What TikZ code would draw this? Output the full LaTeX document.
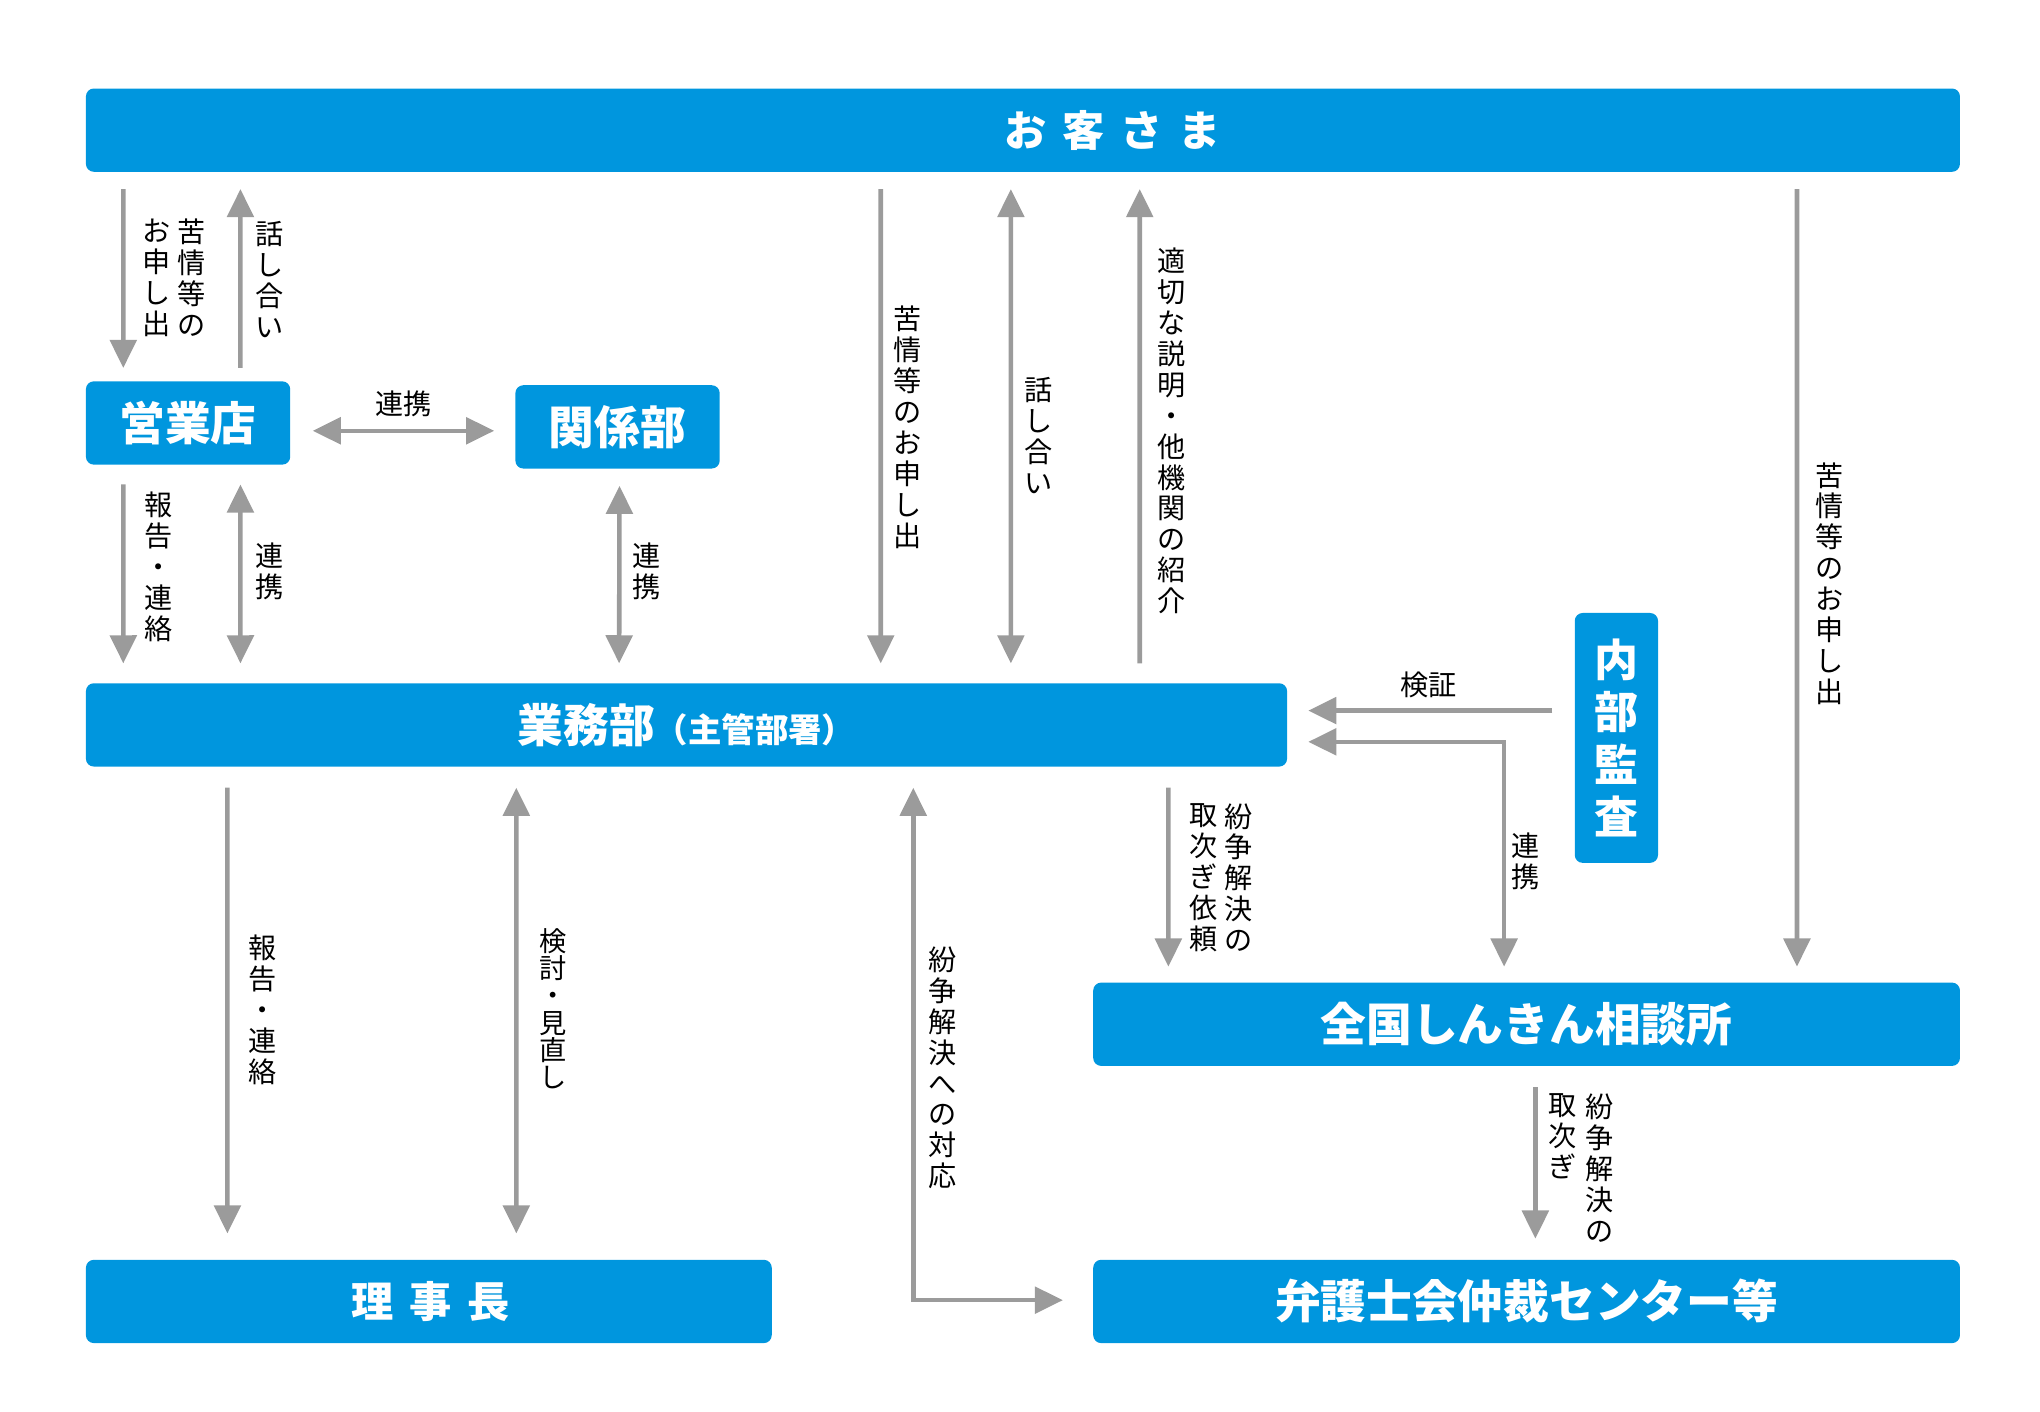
\documentclass[tikz,border=0pt]{standalone}
\usepackage{fontspec}
\setmainfont{Noto Sans CJK JP}
\usetikzlibrary{arrows.meta, positioning}
\definecolor{boxblue}{RGB}{0,150,222}
\definecolor{arrowgray}{RGB}{155,155,155}
\tikzstyle{box} = [rectangle, rounded corners=4.5pt, fill=boxblue, text=white, inner sep=0pt, minimum height=1.664cm, align=center, font=\fontsize{26}{30}\selectfont\bfseries]
\tikzstyle{boxtext} = [inner sep=0pt, text=white, font=\fontsize{24}{28}\selectfont\bfseries]
\tikzstyle{notetext} = [inner sep=0pt, align=center, anchor=north, font=\fontsize{16}{17.6}\selectfont]
\tikzstyle{arrow} = [line width=2.6pt, draw=arrowgray, -{Triangle[length=16pt,width=15pt]}]
\tikzstyle{twoway} = [line width=2.6pt, draw=arrowgray, {Triangle[length=16pt,width=15pt]}-{Triangle[length=16pt,width=15pt]}]
\begin{document}
\begin{tikzpicture}[x=0.026cm, y=-0.026cm]
\useasboundingbox (0,0) rectangle (1567.5,1084.2);

% Boxes
\node[box, minimum width=37.44cm] (kyaku) at (786,100) {};
\node[boxtext] (kyakutext) at (855,100) {お\hspace{9pt}客\hspace{9pt}さ\hspace{9pt}ま};
\node[box, minimum width=4.082cm] (eigyo) at (144.5,325) {営業店};
\node[box, minimum width=4.082cm] (kankei) at (474.5,328) {関係部};
\node[box, minimum width=23.998cm] (gyomu) at (527.5,557) {業務部{\fontsize{19}{22}\selectfont（主管部署）}};
\node[box, minimum width=1.664cm, minimum height=4.992cm, font=\fontsize{25}{29.6}\selectfont\bfseries] (naibu) at (1242,567) {内\\部\\監\\査};
\node[box, minimum width=17.316cm] (zenkoku) at (1173,787) {全国しんきん相談所};
\node[box, minimum width=13.702cm] (rijicho) at (329.5,1000) {};
\node[boxtext] (rijichotext) at (331,1000) {理\hspace{9pt}事\hspace{9pt}長};
\node[box, minimum width=17.316cm] (bengoshi) at (1173,1000) {弁護士会仲裁センター等};

% Customer and branch
\draw[arrow] ([shift={(29,13)}]kyaku.south west) -- ([shift={(29,-10)}]eigyo.north west);
\draw[arrow] ([shift={(119,-10)}]eigyo.north west) -- ([shift={(119,13)}]kyaku.south west);
\node[notetext] (kujoA) at (147,168) {苦\\情\\等\\の};
\node[notetext] (kujoB) at (120,168) {お\\申\\し\\出};
\node[notetext] (hanashiA) at (207,170) {話\\し\\合\\い};

\draw[twoway] ([shift={(17,6)}]eigyo.east) -- ([shift={(-16,3)}]kankei.west);
\node[notetext, anchor=center] (renkeiA) at (310,310) {連携};

% Branch and departments to head office
\draw[arrow] ([shift={(29,15)}]eigyo.south west) -- ([shift={(29,-15)}]gyomu.north west);
\draw[twoway] ([shift={(119,15)}]eigyo.south west) -- ([shift={(119,-15)}]gyomu.north west);
\draw[twoway] ([shift={(1.5,13)}]kankei.south) -- ([shift={(410,-15)}]gyomu.north west);
\node[notetext] (hokokuA) at (122,378) {報\\告\\・\\連\\絡};
\node[notetext] (renkeiB) at (207,417) {連\\携};
\node[notetext] (renkeiC) at (497,417) {連\\携};

% Customer and head office
\draw[arrow] ([shift={(611,13)}]kyaku.south west) -- ([shift={(611,-15)}]gyomu.north west);
\draw[twoway] ([shift={(711,13)}]kyaku.south west) -- ([shift={(711,-15)}]gyomu.north west);
\draw[arrow] ([shift={(810,-15)}]gyomu.north west) -- ([shift={(810,13)}]kyaku.south west);
\node[notetext] (kujoC) at (697,235) {苦\\情\\等\\の\\お\\申\\し\\出};
\node[notetext] (hanashiB) at (798,290) {話\\し\\合\\い};
\node[notetext] (setsumei) at (900,190) {適\\切\\な\\説\\明\\・\\他\\機\\関\\の\\紹\\介};

% Customer to counseling office
\draw[arrow] ([shift={(1315,13)}]kyaku.south west) -- ([shift={(541,-12)}]zenkoku.north west);
\node[notetext] (kujoD) at (1406,355) {苦\\情\\等\\の\\お\\申\\し\\出};

% Internal audit
\draw[arrow] ([shift={(-17,-21)}]naibu.west) -- ([shift={(16,-11)}]gyomu.east);
\node[notetext, anchor=center] (kensho) at (1098,526) {検証};
\draw[twoway] ([shift={(16,13)}]gyomu.east) -| ([shift={(316,-12)}]zenkoku.north west);
\node[notetext] (renkeiD) at (1172,640) {連\\携};

% Head office to counseling office
\draw[arrow] ([shift={(832,16)}]gyomu.south west) -- ([shift={(58,-12)}]zenkoku.north west);
\node[notetext] (funsoA) at (952,617) {紛\\争\\解\\決\\の};
\node[notetext] (toritsugiA) at (925,617) {取\\次\\ぎ\\依\\頼};

% Head office and chairman
\draw[arrow] ([shift={(109,16)}]gyomu.south west) -- ([shift={(109,-20)}]rijicho.north west);
\draw[twoway] ([shift={(331,16)}]gyomu.south west) -- ([shift={(331,-20)}]rijicho.north west);
\node[notetext] (hokokuB) at (202,718) {報\\告\\・\\連\\絡};
\node[notetext, font=\fontsize{15.5}{15.5}\selectfont] (kento) at (425,713) {検\\討\\・\\見\\直\\し};

% Dispute resolution
\draw[twoway] ([shift={(636,16)}]gyomu.south west) |- ([shift={(-23,-1)}]bengoshi.west);
\node[notetext] (taio) at (724,727) {紛\\争\\解\\決\\へ\\の\\対\\応};
\draw[arrow] ([shift={(340,16)}]zenkoku.south west) -- ([shift={(340,-16)}]bengoshi.north west);
\node[notetext] (funsoB) at (1229,840) {紛\\争\\解\\決\\の};
\node[notetext] (toritsugiB) at (1201,840) {取\\次\\ぎ};

\end{tikzpicture}
\end{document}
